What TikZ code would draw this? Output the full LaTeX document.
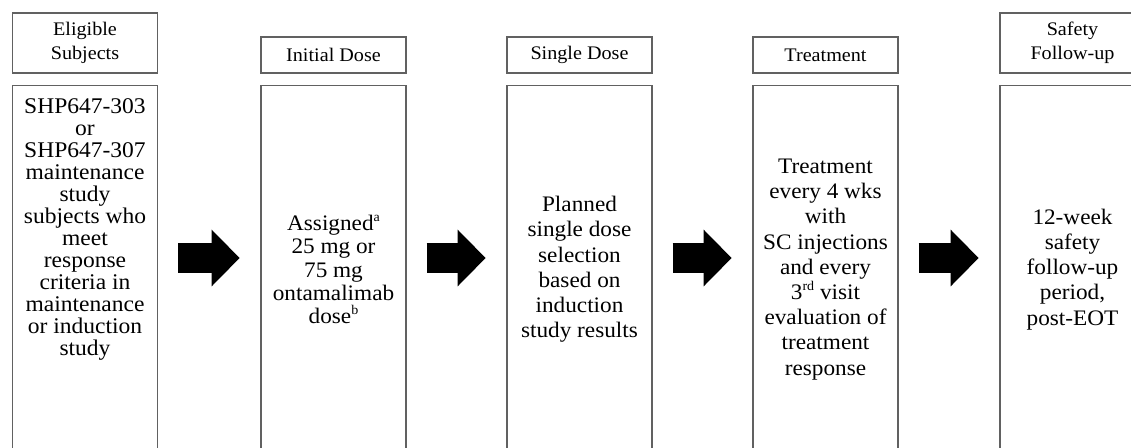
\documentclass[tikz,border=0pt]{standalone}
\usepackage{fontspec}
\setmainfont[FakeStretch=1.05]{Liberation Serif}
\usepackage{tikz}
\usetikzlibrary{positioning}
\usetikzlibrary{arrows.meta}
\colorlet{boxcol}{black!62}
\newcommand{\supmark}[1]{\raisebox{0.42em}{\fontsize{10}{10}\selectfont #1}}
\tikzset{
  headbox/.style={draw=boxcol, line width=1pt, minimum width=108.75pt, inner sep=0pt,
    align=center, font=\fontsize{14.4}{18}\selectfont},
  bodybox/.style={draw=boxcol, line width=1pt, minimum width=108.75pt, minimum height=276pt,
    inner sep=0pt, align=center, font=\fontsize{16.6}{18.9}\selectfont},
  bodytext/.style={inner sep=0pt, align=center, font=\fontsize{16.8}{16.5}\selectfont},
  bigarrow/.style={line width=22.5pt, shorten <=15pt, shorten >=15.5pt,
    -{Triangle[length=21pt, width=41.25pt]}}
}

\begin{document}
\begin{tikzpicture}[x=0.75pt, y=-0.75pt]
  \useasboundingbox (0,0) rectangle (1131,447);
  \coordinate (mid) at (0,258);

  % headers
  \node[headbox, minimum height=45pt] (h1) at (85,43) {Eligible\\Subjects};
  \node[headbox, minimum height=27pt] (h2) at (333.5,55) {Initial Dose};
  \node[headbox, minimum height=27pt] (h3) at (579.5,55) {Single Dose};
  \node[headbox, minimum height=27pt] (h4) at (825.5,55) {Treatment};
  \node[headbox, minimum height=45pt] (h5) at (1072.5,43) {Safety\\Follow-up};

  % columns
  \node[bodybox, below=8.25pt of h1] (b1) {};
  \node[bodytext, below=10.5pt of b1.north] (t1) {SHP647-303\\or\\SHP647-307\\maintenance\\study\\subjects who\\meet\\response\\criteria in\\maintenance\\or induction\\study};
  \node[bodybox, below=8.25pt of h2, font=\fontsize{16.6}{17.5}\selectfont] (b2) {Assigned\supmark{a}\\25 mg or\\75 mg\\ontamalimab\\dose\supmark{b}};
  \node[bodybox, below=8.25pt of h3] (b3) {Planned\\single dose\\selection\\based on\\induction\\study results};
  \node[bodybox, below=8.25pt of h4] (b4) {Treatment\\every 4 wks\\with\\SC injections\\and every\\3\supmark{rd} visit\\evaluation of\\treatment\\response};
  \node[bodybox, below=8.25pt of h5] (b5) {12-week\\safety\\follow-up\\period,\\post-EOT};

  % arrows
  \draw[bigarrow] (b1.east |- mid) -- (b2.west |- mid);
  \draw[bigarrow] (b2.east |- mid) -- (b3.west |- mid);
  \draw[bigarrow] (b3.east |- mid) -- (b4.west |- mid);
  \draw[bigarrow] (b4.east |- mid) -- (b5.west |- mid);
\end{tikzpicture}
\end{document}
